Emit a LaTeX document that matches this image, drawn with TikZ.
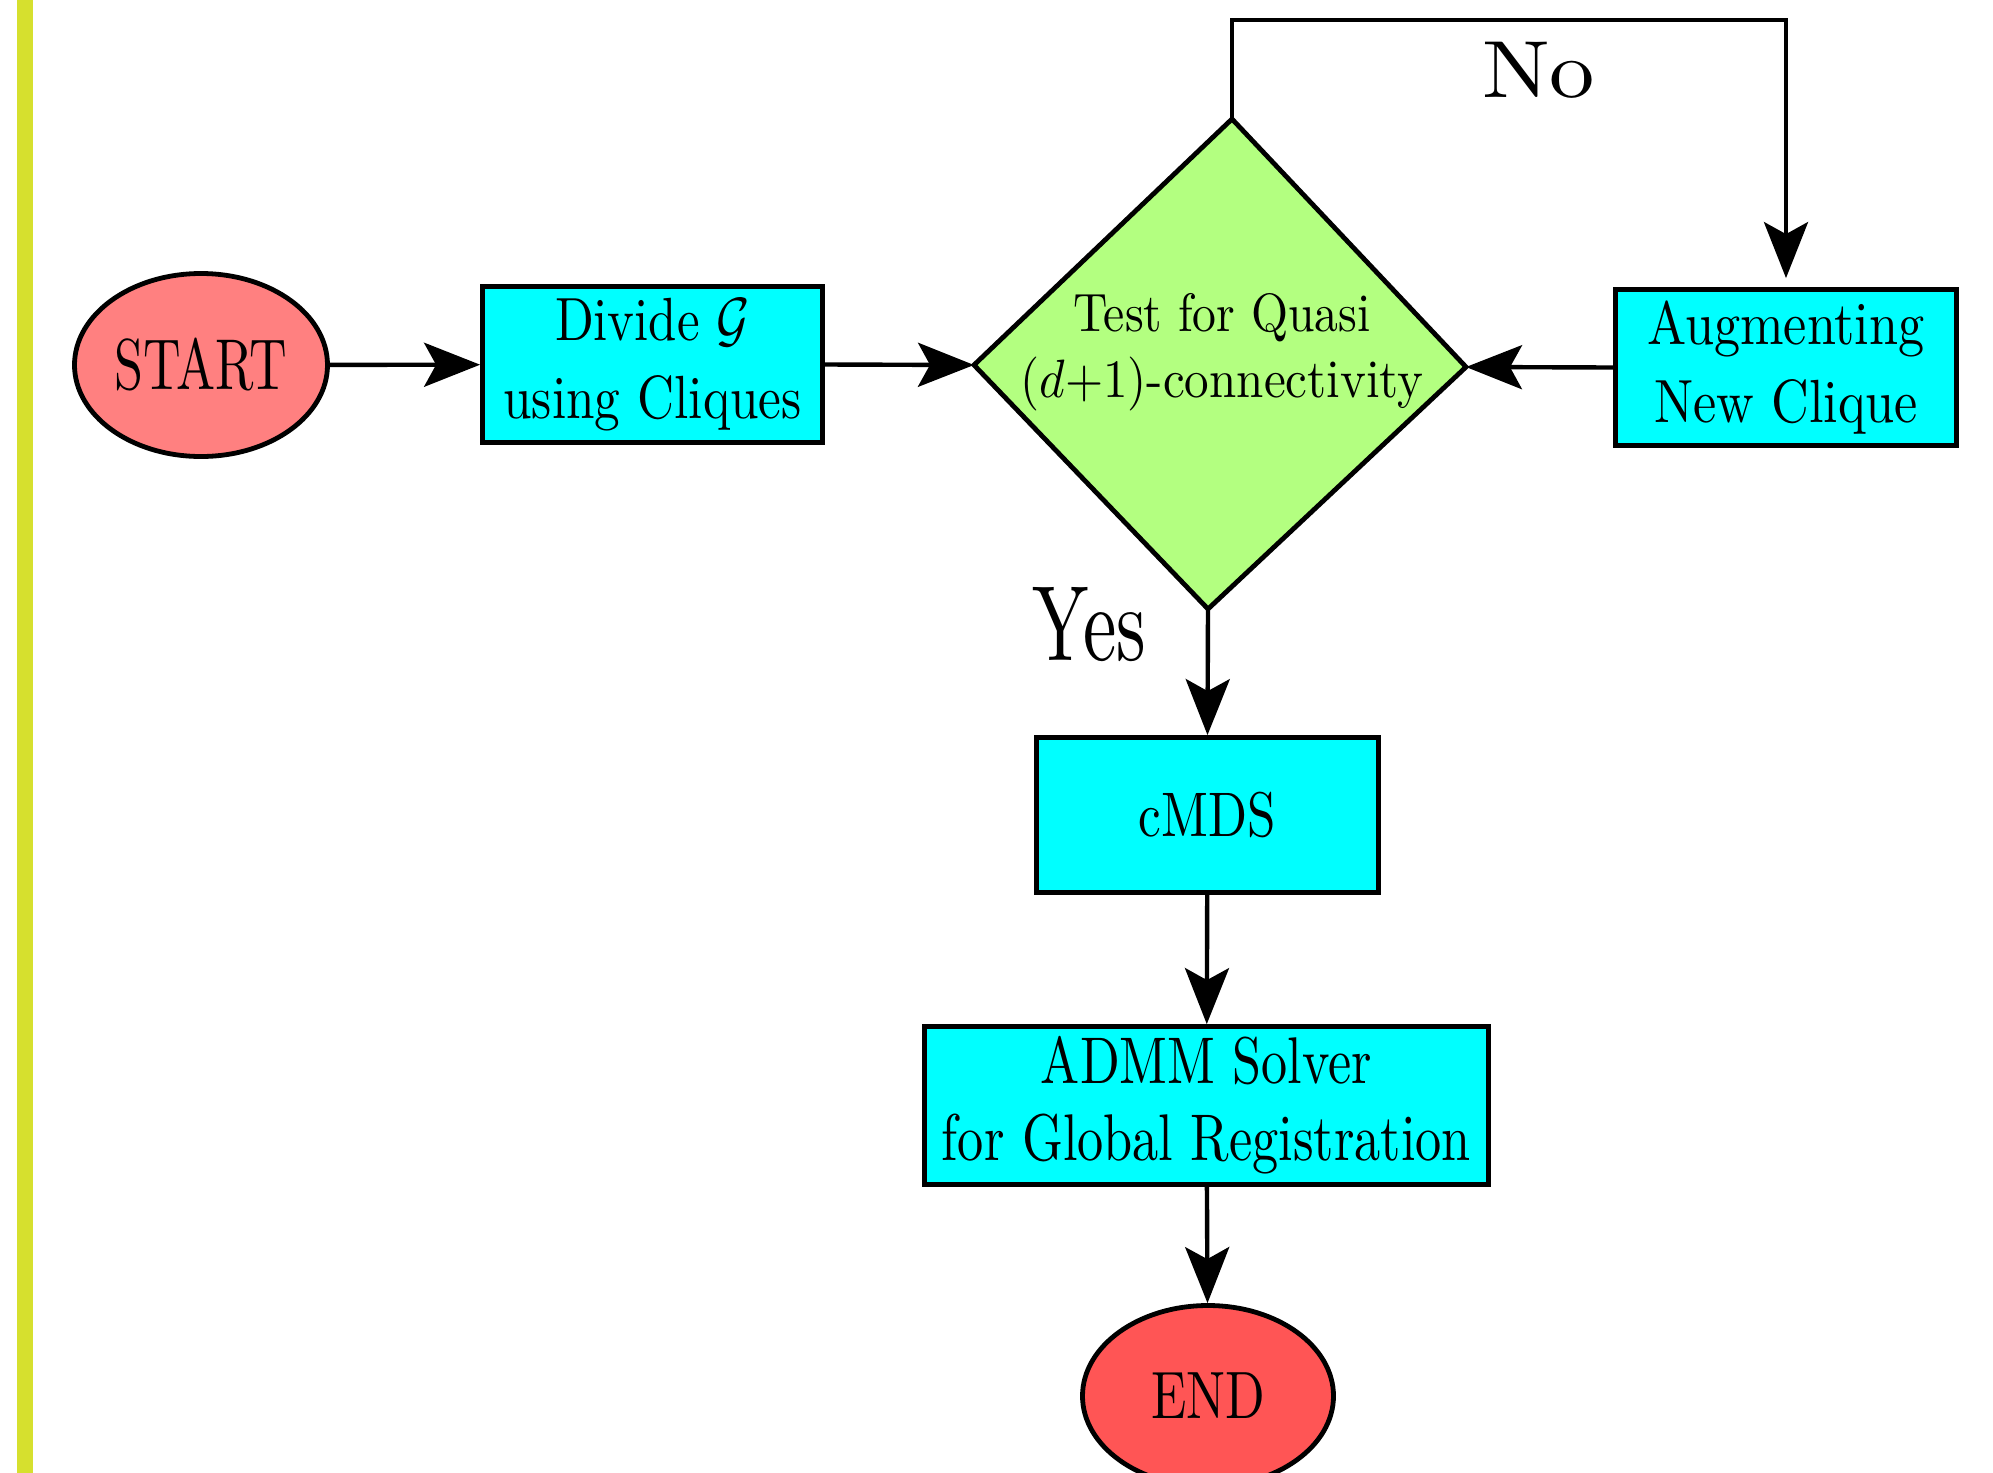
\documentclass[tikz,border=0pt]{standalone}
\usepackage{graphicx}
\usetikzlibrary{arrows.meta,shapes.geometric}
\definecolor{startred}{RGB}{255,128,128}
\definecolor{endred}{RGB}{255,85,85}
\definecolor{boxcyan}{RGB}{0,255,255}
\definecolor{diagreen}{RGB}{179,255,128}
\definecolor{baryellow}{RGB}{214,224,46}
% width fixed, height scaled from the 10pt design size
\newcommand{\fitw}[3]{\resizebox{#1}{#2\height}{#3}}
\begin{document}
\begin{tikzpicture}[x=0.5pt,y=-0.5pt,
  every node/.style={inner sep=0pt},
  procbox/.style={draw=black, line width=2.4pt, fill=boxcyan, rectangle, align=center},
  termnode/.style={draw=black, line width=2.4pt, ellipse},
  conn/.style={draw=black, line width=2.2pt, -{Stealth[length=28pt,width=22pt,inset=6pt]}},
]
\fill[white] (0,0) rectangle (1993,1473);
\useasboundingbox (0,0) rectangle (1993,1473);
\fill[baryellow] (17,0) rectangle (33,1473);

\node[termnode, fill=startred, minimum width=126.5pt, minimum height=91.5pt,
      font=\fontsize{10}{12}\selectfont] (start) at (201,365) {\fitw{86.5pt}{3.6}{START}};

\node[procbox, minimum width=170pt, minimum height=78pt,
      font=\fontsize{10}{39}\selectfont] (divide) at (652.5,364.5)
      {\fitw{97.5pt}{3.05}{Divide $\mathcal{G}$}\\\fitw{149pt}{3.05}{using Cliques}};

\coordinate (dL) at (974,365);
\coordinate (dT) at (1232,119);
\coordinate (dR) at (1466,367);
\coordinate (dB) at (1208,609);
\draw[line width=2.4pt, fill=diagreen] (dL) -- (dT) -- (dR) -- (dB) -- cycle;
\node[align=center, font=\fontsize{10}{33}\selectfont] (test) at (1222,352)
      {\fitw{148.5pt}{2.7}{Test for Quasi}\\\fitw{201.5pt}{2.7}{$(d{+}1)$-connectivity}};

\node[procbox, minimum width=170.5pt, minimum height=78pt,
      font=\fontsize{10}{39}\selectfont] (aug) at (1786,367.5)
      {\fitw{138.5pt}{3.05}{Augmenting}\\\fitw{132pt}{3.05}{New Clique}};

\node[procbox, minimum width=171pt, minimum height=77.5pt,
      font=\fontsize{10}{12}\selectfont] (cmds) at (1207.5,815) {\fitw{68.5pt}{3.15}{cMDS}};

\node[procbox, minimum width=282pt, minimum height=79pt,
      font=\fontsize{10}{38.5}\selectfont] (admm) at (1206.5,1105.5)
      {\fitw{165.5pt}{3.3}{ADMM Solver}\\\fitw{264.5pt}{3.3}{for Global Registration}};

\node[termnode, fill=endred, minimum width=125.5pt, minimum height=90.5pt,
      font=\fontsize{10}{12}\selectfont] (end) at (1208,1396) {\fitw{57pt}{3.35}{END}};

\node[anchor=base, font=\fontsize{10}{12}\selectfont] (no) at (1538.5,97) {\fitw{56.5pt}{4.05}{No}};
\node[anchor=base, font=\fontsize{10}{12}\selectfont] (yes) at (1089.5,660) {\fitw{56.5pt}{5.35}{Yes}};

\coordinate (looptop) at (1500,20);
\draw[conn] (start) -- (divide);
\draw[conn] (divide.east) -- (dL);
\draw[conn] (aug.west) -- (dR);
\draw[conn, shorten >=4.5pt] (dT) -- (dT |- looptop) -| (aug.north);
\draw[conn] (dB) -- (cmds.north);
\draw[conn] (cmds) -- (admm);
\draw[conn] (admm) -- (end);
\end{tikzpicture}
\end{document}
